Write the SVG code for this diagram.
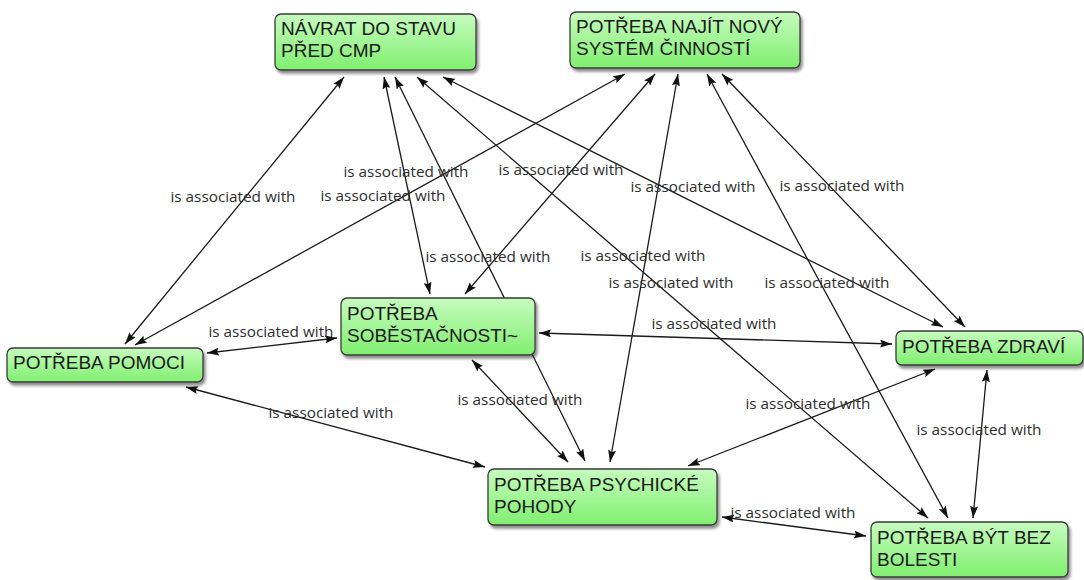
<svg xmlns="http://www.w3.org/2000/svg" width="1084" height="580" viewBox="0 0 1084 580">
  <defs>
    <linearGradient id="nodeFill" x1="0" y1="0" x2="0" y2="1">
      <stop offset="0" stop-color="#c6fcbf"/>
      <stop offset="1" stop-color="#80ef6f"/>
    </linearGradient>
    <filter id="shadow" x="-10%" y="-20%" width="130%" height="150%">
      <feDropShadow dx="2" dy="3" stdDeviation="1.6" flood-color="#000" flood-opacity="0.45"/>
    </filter>
    <marker id="arrow" viewBox="0 0 12 8" refX="12" refY="4" markerWidth="12" markerHeight="8" markerUnits="userSpaceOnUse" orient="auto-start-reverse">
      <path d="M0,0 L12,4 L0,8 L2,4 Z" fill="#111"/>
    </marker>
  </defs>
  <style>
    .node rect { fill: url(#nodeFill); stroke: #3a3a3a; stroke-width: 1.3; filter: url(#shadow); }
    .node text { font-family: "Liberation Sans", Arial, sans-serif; font-size: 19px; fill: #1a1a1a; }
    .edges line { stroke: #1a1a1a; stroke-width: 1.3; marker-start: url(#arrow); marker-end: url(#arrow); }
    .labels text { font-family: "Open Sans", "DejaVu Sans", sans-serif; font-size: 15.3px; fill: #2e2e2e; text-anchor: middle; }
  </style>
  <rect width="1084" height="580" fill="#fff"/>

  <!-- connectors -->
  <g id="connectors" class="edges">
    <line x1="344" y1="77" x2="125" y2="344"/>
    <line x1="625" y1="74" x2="135" y2="345"/>
    <line x1="384" y1="77" x2="430" y2="294"/>
    <line x1="395" y1="77" x2="585" y2="461"/>
    <line x1="655" y1="74" x2="465" y2="294"/>
    <line x1="678" y1="74" x2="610" y2="462"/>
    <line x1="707" y1="74" x2="948" y2="518"/>
    <line x1="722" y1="74" x2="965" y2="327"/>
    <line x1="443" y1="77" x2="943" y2="327"/>
    <line x1="417" y1="77" x2="928" y2="518"/>
    <line x1="207" y1="353" x2="337" y2="338"/>
    <line x1="186" y1="387" x2="485" y2="467"/>
    <line x1="472" y1="360" x2="568" y2="462"/>
    <line x1="539" y1="333" x2="892" y2="344"/>
    <line x1="688" y1="466" x2="935" y2="369"/>
    <line x1="722" y1="517" x2="866" y2="536"/>
    <line x1="987" y1="370" x2="973" y2="518"/>
  </g>

  <g id="connector-labels" class="labels">
    <text x="233" y="202">is associated with</text>
    <text x="383" y="201">is associated with</text>
    <text x="406" y="177">is associated with</text>
    <text x="561" y="175">is associated with</text>
    <text x="693" y="192">is associated with</text>
    <text x="842" y="191">is associated with</text>
    <text x="488" y="262">is associated with</text>
    <text x="643" y="261">is associated with</text>
    <text x="671" y="288">is associated with</text>
    <text x="827" y="288">is associated with</text>
    <text x="271" y="337">is associated with</text>
    <text x="714" y="329">is associated with</text>
    <text x="331" y="418">is associated with</text>
    <text x="520" y="405">is associated with</text>
    <text x="808" y="409">is associated with</text>
    <text x="793" y="518">is associated with</text>
    <text x="979" y="435">is associated with</text>
  </g>

  <!-- nodes -->
  <g id="navrat" class="node">
    <rect x="275" y="14" width="201" height="56" rx="6"/>
    <text x="281" y="35">NÁVRAT DO STAVU</text>
    <text x="281" y="57">PŘED CMP</text>
  </g>
  <g id="najit" class="node">
    <rect x="570" y="12" width="230" height="56" rx="6"/>
    <text x="576" y="33">POTŘEBA NAJÍT NOVÝ</text>
    <text x="576" y="55">SYSTÉM ČINNOSTÍ</text>
  </g>
  <g id="sobestacnost" class="node">
    <rect x="341" y="298" width="194" height="57" rx="6"/>
    <text x="347" y="320">POTŘEBA</text>
    <text x="347" y="342">SOBĚSTAČNOSTI~</text>
  </g>
  <g id="pomoc" class="node">
    <rect x="7" y="348" width="196" height="34" rx="6"/>
    <text x="13" y="369">POTŘEBA POMOCI</text>
  </g>
  <g id="zdravi" class="node">
    <rect x="896" y="331" width="187" height="34" rx="6"/>
    <text x="902" y="353">POTŘEBA ZDRAVÍ</text>
  </g>
  <g id="psychicke" class="node">
    <rect x="488" y="469" width="229" height="56" rx="6"/>
    <text x="494" y="491">POTŘEBA PSYCHICKÉ</text>
    <text x="494" y="513">POHODY</text>
  </g>
  <g id="bolest" class="node">
    <rect x="871" y="522" width="197" height="55" rx="6"/>
    <text x="877" y="544">POTŘEBA BÝT BEZ</text>
    <text x="877" y="566">BOLESTI</text>
  </g>
</svg>
